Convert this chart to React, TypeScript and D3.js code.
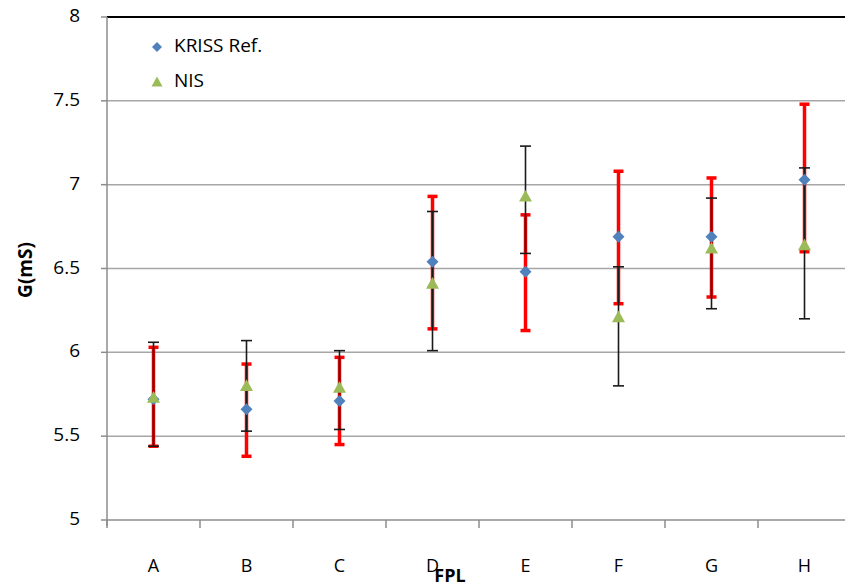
import React from "react";
import * as d3 from "d3";

const categories = ["A", "B", "C", "D", "E", "F", "G", "H"];

// KRISS reference values, with red error bars
const kriss = [5.72, 5.66, 5.71, 6.54, 6.48, 6.69, 6.69, 7.03];
const krissUpper = [6.03, 5.93, 5.97, 6.93, 6.82, 7.08, 7.04, 7.48];
const krissLower = [5.44, 5.38, 5.45, 6.14, 6.13, 6.29, 6.33, 6.6];

// NIS values, with black error bars
const nis = [5.73, 5.8, 5.79, 6.41, 6.93, 6.21, 6.62, 6.64];
const nisUpper = [6.06, 6.07, 6.01, 6.84, 7.23, 6.51, 6.92, 7.1];
const nisLower = [5.44, 5.53, 5.54, 6.01, 6.59, 5.8, 6.26, 6.2];

const yTicks = [5, 5.5, 6, 6.5, 7, 7.5, 8];

const W = 845;
const H = 588;
const margin = { top: 17, left: 107, bottom: 520 };
const font = "'Open Sans', 'Liberation Sans', sans-serif";

const App: React.FC = () => {
  const x = d3
    .scaleBand<string>()
    .domain(categories)
    .range([margin.left, margin.left + 93 * categories.length]);
  const y = d3.scaleLinear().domain([5, 8]).range([margin.bottom, margin.top]);
  const cx = (c: string) => (x(c) as number) + x.bandwidth() / 2;

  const errBar = (
    c: string,
    lo: number,
    hi: number,
    color: string,
    w: number,
    cap: number,
    key: string
  ) => (
    <g key={key} stroke={color} strokeWidth={w}>
      <line x1={cx(c)} x2={cx(c)} y1={y(lo)} y2={y(hi)} />
      <line x1={cx(c) - cap} x2={cx(c) + cap} y1={y(hi)} y2={y(hi)} />
      <line x1={cx(c) - cap} x2={cx(c) + cap} y1={y(lo)} y2={y(lo)} />
    </g>
  );

  const diamond = (px: number, py: number, r: number) =>
    `M${px},${py - r}L${px + r},${py}L${px},${py + r}L${px - r},${py}Z`;
  const triangle = (px: number, py: number, r: number) =>
    `M${px},${py - r}L${px + r},${py + r * 0.8}L${px - r},${py + r * 0.8}Z`;

  return (
    <svg
      width={W}
      height={H}
      style={{ position: "absolute", left: 0, top: 0, background: "#fff" }}
    >
      {/* grid */}
      {yTicks.map((t) => (
        <g key={t}>
          <line
            x1={margin.left - 6}
            x2={margin.left}
            y1={y(t)}
            y2={y(t)}
            stroke="#8c8c8c"
            strokeWidth={1.5}
          />
          {t > 5 && (
            <line
              x1={margin.left}
              x2={W}
              y1={y(t)}
              y2={y(t)}
              stroke={t === 8 ? "#000" : "#a6a6a6"}
              strokeWidth={t === 8 ? 2 : 1.5}
            />
          )}
          <text
            x={80}
            y={y(t)}
            textAnchor="end"
            dominantBaseline="middle"
            fontFamily={font}
            fontSize={19}
            fill="#000"
          >
            {t}
          </text>
        </g>
      ))}
      {/* axes */}
      <line
        x1={margin.left}
        x2={margin.left}
        y1={margin.top}
        y2={margin.bottom + 6}
        stroke="#8c8c8c"
        strokeWidth={1.5}
      />
      <line
        x1={margin.left}
        x2={W}
        y1={margin.bottom}
        y2={margin.bottom}
        stroke="#8c8c8c"
        strokeWidth={1.5}
      />
      {categories.map((c) => (
        <g key={c}>
          <line
            x1={x(c) as number}
            x2={x(c) as number}
            y1={margin.bottom}
            y2={margin.bottom + 8}
            stroke="#8c8c8c"
            strokeWidth={1.5}
          />
          <text
            x={cx(c)}
            y={572}
            textAnchor="middle"
            fontFamily={font}
            fontSize={18}
            fill="#000"
          >
            {c}
          </text>
        </g>
      ))}
      {/* error bars */}
      {categories.map((c, i) =>
        errBar(c, krissLower[i], krissUpper[i], "#ff0000", 3.5, 5, "k" + c)
      )}
      {categories.map((c, i) =>
        errBar(c, nisLower[i], nisUpper[i], "#1a1a1a", 1.6, 5.5, "n" + c)
      )}
      {/* markers */}
      {categories.map((c, i) => (
        <path key={"d" + c} d={diamond(cx(c), y(kriss[i]), 6)} fill="#4f81bd" />
      ))}
      {categories.map((c, i) => (
        <path key={"t" + c} d={triangle(cx(c), y(nis[i]), 6.5)} fill="#9bbb59" />
      ))}
      {/* legend */}
      <path d={diamond(157, 47, 5)} fill="#4f81bd" />
      <text x={174} y={47} dominantBaseline="middle" fontFamily={font} fontSize={19} fill="#000">
        KRISS Ref.
      </text>
      <path d={triangle(157, 82, 5.5)} fill="#9bbb59" />
      <text x={174} y={82} dominantBaseline="middle" fontFamily={font} fontSize={19} fill="#000">
        NIS
      </text>
      {/* axis titles */}
      <text
        transform="translate(27,270) rotate(-90)"
        textAnchor="middle"
        dominantBaseline="middle"
        fontFamily={font}
        fontWeight="bold"
        fontSize={19}
        fill="#000"
      >
        G(mS)
      </text>
      <text
        x={450}
        y={582}
        textAnchor="middle"
        fontFamily={font}
        fontWeight="bold"
        fontSize={18}
        fill="#000"
      >
        FPL
      </text>
    </svg>
  );
};

export default App;
